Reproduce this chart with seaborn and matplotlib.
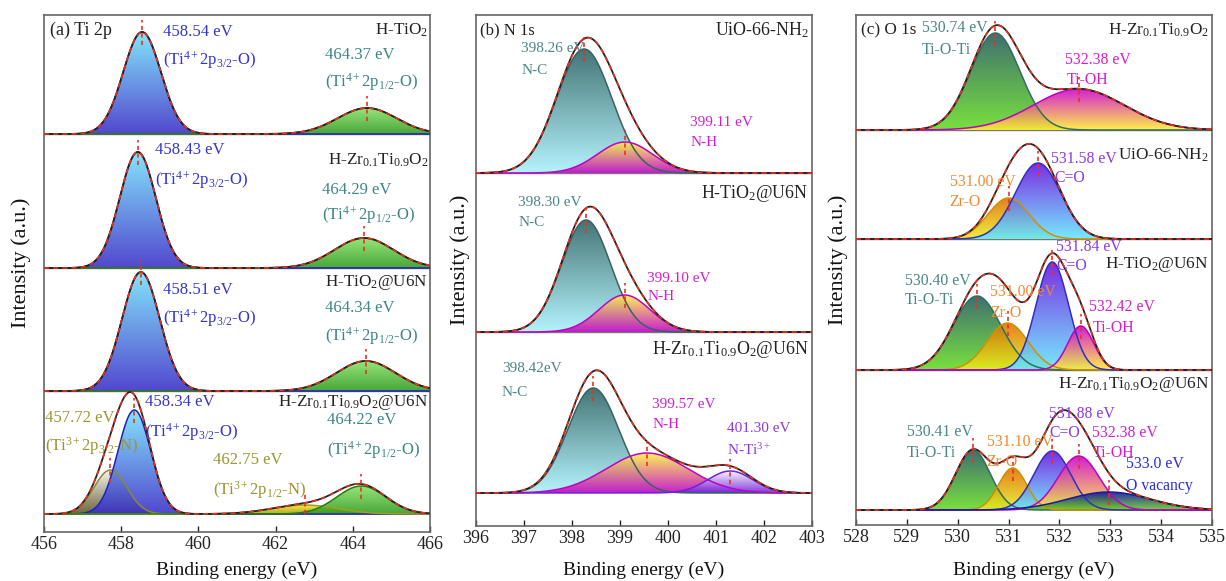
import numpy as np
import matplotlib
matplotlib.use("Agg")
import matplotlib.pyplot as plt
import seaborn as sns
from matplotlib.colors import LinearSegmentedColormap
from matplotlib.patches import PathPatch

# ---------------- DATA ----------------
# Panel (a) Ti 2p
ti_samples = ["H-TiO$_2$", "H-Zr$_{0.1}$Ti$_{0.9}$O$_2$", "H-TiO$_2$@U6N",
              "H-Zr$_{0.1}$Ti$_{0.9}$O$_2$@U6N"]
ti_centers = [[458.54, 464.37], [458.43, 464.29], [458.51, 464.34],
              [457.72, 458.34, 462.75, 464.22]]
ti_heights = [[102, 26], [116, 30], [119, 30], [44, 104, 9, 28]]
ti_fwhm = [[1.15, 1.8], [1.1, 1.8], [1.15, 1.8], [1.0, 1.0, 2.0, 1.5]]
ti_kinds = [["t4_32", "t4_12"], ["t4_32", "t4_12"], ["t4_32", "t4_12"],
            ["t3_32", "t4_32", "t3_12", "t4_12"]]
ti_texts = [
    [("458.54 eV", "t4_32"), ("(Ti$^{4+}$2p$_{3/2}$-O)", "t4_32"),
     ("464.37 eV", "t4_12"), ("(Ti$^{4+}$2p$_{1/2}$-O)", "t4_12")],
    [("458.43 eV", "t4_32"), ("(Ti$^{4+}$2p$_{3/2}$-O)", "t4_32"),
     ("464.29 eV", "t4_12"), ("(Ti$^{4+}$2p$_{1/2}$-O)", "t4_12")],
    [("458.51 eV", "t4_32"), ("(Ti$^{4+}$2p$_{3/2}$-O)", "t4_32"),
     ("464.34 eV", "t4_12"), ("(Ti$^{4+}$2p$_{1/2}$-O)", "t4_12")],
    [("458.34 eV", "t4_32"), ("(Ti$^{4+}$2p$_{3/2}$-O)", "t4_32"),
     ("457.72 eV", "t3_32"), ("(Ti$^{3+}$2p$_{3/2}$-N)", "t3_32"),
     ("462.75 eV", "t3_12"), ("(Ti$^{3+}$2p$_{1/2}$-N)", "t3_12"),
     ("464.22 eV", "t4_12"), ("(Ti$^{4+}$2p$_{1/2}$-O)", "t4_12")],
]

# Panel (b) N 1s
n_samples = ["UiO-66-NH$_2$", "H-TiO$_2$@U6N", "H-Zr$_{0.1}$Ti$_{0.9}$O$_2$@U6N"]
n_centers = [[398.26, 399.11], [398.30, 399.10], [398.45, 399.57, 401.30]]
n_heights = [[124, 31], [112, 37], [105, 40, 22]]
n_fwhm = [[1.35, 1.35], [1.2, 1.25], [1.25, 2.0, 1.1]]
n_kinds = [["NC", "NH"], ["NC", "NH"], ["NC", "NH", "NTi"]]
n_texts = [
    [("398.26 eV", "NC"), ("N-C", "NC"), ("399.11 eV", "NH"), ("N-H", "NH")],
    [("398.30 eV", "NC"), ("N-C", "NC"), ("399.10 eV", "NH"), ("N-H", "NH")],
    [("398.42eV", "NC"), ("N-C", "NC"), ("399.57 eV", "NH"), ("N-H", "NH"),
     ("401.30 eV", "NTi"), ("N-Ti$^{3+}$", "NTi")],
]

# Panel (c) O 1s
o_samples = ["H-Zr$_{0.1}$Ti$_{0.9}$O$_2$", "UiO-66-NH$_2$", "H-TiO$_2$@U6N",
             "H-Zr$_{0.1}$Ti$_{0.9}$O$_2$@U6N"]
o_centers = [[530.74, 532.38], [531.00, 531.58],
             [530.38, 530.98, 531.86, 532.42],
             [530.30, 531.08, 531.86, 532.38, 532.97]]
o_heights = [[97, 41], [41, 76], [74, 47, 108, 44], [60, 42, 59, 54, 18]]
o_fwhm = [[1.14, 2.1], [0.95, 1.05], [1.1, 0.95, 0.75, 0.6],
          [0.8, 0.65, 0.85, 0.95, 1.9]]
o_kinds = [["TiOTi", "TiOH"], ["ZrO", "CO"], ["TiOTi", "ZrO", "CO", "TiOH"],
           ["TiOTi", "ZrO", "CO", "TiOH", "Ovac"]]
o_texts = [
    [("530.74 eV", "TiOTi"), ("Ti-O-Ti", "TiOTi"), ("532.38 eV", "TiOH"), ("Ti-OH", "TiOH")],
    [("531.58 eV", "CO"), ("C=O", "CO"), ("531.00 eV", "ZrO"), ("Zr-O", "ZrO")],
    [("531.84 eV", "CO"), ("C=O", "CO"), ("530.40 eV", "TiOTi"), ("Ti-O-Ti", "TiOTi"),
     ("531.00 eV", "ZrO"), ("Zr-O", "ZrO"), ("532.42 eV", "TiOH"), ("Ti-OH", "TiOH")],
    [("531.88 eV", "CO"), ("C=O", "CO"), ("532.38 eV", "TiOH"), ("Ti-OH", "TiOH"),
     ("530.41 eV", "TiOTi"), ("Ti-O-Ti", "TiOTi"), ("531.10 eV", "ZrO"), ("Zr-O", "ZrO"),
     ("533.0 eV", "Ovac"), ("O vacancy", "Ovac")],
]

# ---------------- STYLES ----------------
# kind: (top colour, bottom colour, edge colour, label colour)
STY = {
    "t4_32": ("#72e2fb", "#3a2ec8", "#2020c0", "#3434d0"),
    "t4_12": ("#86e266", "#2f9a1c", "#2a7a10", "#3d8585"),
    "t3_32": ("#f6f6f2", "#5a5020", "#8a8a30", "#9a9632"),
    "t3_12": ("#f2e420", "#a0a012", "#a0a020", "#9a9632"),
    "NC":    ("#2a6262", "#aaf2fd", "#3a6262", "#4a8686"),
    "NH":    ("#fff040", "#c000c8", "#c000c8", "#d21ed2"),
    "NTi":   ("#f8f2ff", "#7020d8", "#7020d8", "#8a3ae0"),
    "TiOTi": ("#245c5c", "#66dd22", "#2f6f5f", "#4a8686"),
    "TiOH":  ("#d000d0", "#ffee30", "#c000c0", "#d21ed2"),
    "ZrO":   ("#e07000", "#e8f020", "#d09000", "#f08a30"),
    "CO":    ("#6a10e0", "#62e8ff", "#3030c0", "#8a3ae0"),
    "Ovac":  ("#1010a0", "#62cc20", "#1a1aa0", "#2a2ae0"),
}

W, H = 1226, 581
sns.set_theme(style="ticks")
plt.rcParams["font.family"] = ["Liberation Serif", "DejaVu Serif"]
plt.rcParams["mathtext.fontset"] = "custom"
plt.rcParams["mathtext.rm"] = "Liberation Serif"
plt.rcParams["mathtext.it"] = "Liberation Serif:italic"
plt.rcParams["mathtext.bf"] = "Liberation Serif:bold"

fig = plt.figure(figsize=(W / 100, H / 100), dpi=100)


def gauss(x, c, h, f):
    return h * np.exp(-4 * np.log(2) * (x - c) ** 2 / f ** 2)


def grad_fill(ax, x, base, y, kind, z):
    top, bot, edge, _ = STY[kind]
    m = y > y.max() * 0.002
    xs, ys = x[m], y[m]
    poly = ax.fill_between(xs, base, base + ys, color="none", lw=0)
    path = poly.get_paths()[0]
    patch = PathPatch(path, transform=ax.transData, facecolor="none",
                      edgecolor="none")
    ax.add_patch(patch)
    cmap = LinearSegmentedColormap.from_list("g" + kind, [bot, top])
    grad = np.linspace(0, 1, 256).reshape(-1, 1)
    im = ax.imshow(grad, extent=[xs.min(), xs.max(), base, base + ys.max()],
                   origin="lower", cmap=cmap, aspect="auto", alpha=0.88,
                   zorder=z, interpolation="bilinear")
    im.set_clip_path(patch)


def panel(box, xlim, xticks, centers, heights, fwhms, kinds, texts, text_pos,
          samples, sample_pos, bases, title, title_pos, fs, sfs, ylab_x, xlab_y):
    l, r, t, b = box
    ax = fig.add_axes([l / W, 1 - b / H, (r - l) / W, (b - t) / H])
    x = np.linspace(xlim[0], xlim[1], 900)
    ytop = b - t
    for i, base in enumerate(bases):
        comps = [gauss(x, c, h, f) for c, h, f in
                 zip(centers[i], heights[i], fwhms[i])]
        for j, (yc, k) in enumerate(zip(comps, kinds[i])):
            grad_fill(ax, x, base, yc, k, 2 + j * 0.1)
        for j, (yc, k) in enumerate(zip(comps, kinds[i])):
            sns.lineplot(x=x, y=base + yc, color=STY[k][2], lw=1.1, ax=ax,
                         estimator=None, zorder=4, legend=False)
        env = np.sum(comps, axis=0)
        sns.lineplot(x=x, y=base + env, color="#222222", lw=1.3, ax=ax,
                     estimator=None, zorder=5, legend=False)
        ax.plot(x, base + env, color="#e8321e", lw=1.2, ls=(0, (3, 2.5)),
                zorder=6)
        for c, h in zip(centers[i], heights[i]):
            ax.plot([c, c], [max(base, base + h - 13), base + h + 12],
                    color="#e8321e", lw=1.2, ls=(0, (2.5, 2)), zorder=7)
        for (txt, k), (tx, ty) in zip(texts[i], text_pos[i]):
            ax.text(tx, ty, txt, color=STY[k][3], fontsize=fs, ha="left",
                    va="center", zorder=8)
        sx, sy = sample_pos[i]
        ax.text(sx, sy, samples[i], color="#222222", fontsize=sfs, ha="right",
                va="center", zorder=8)
    for base in bases[:-1]:
        ax.axhline(base, color="#777777", lw=1.0, zorder=1)
    ax.text(title_pos[0], title_pos[1], title, color="#222222",
            fontsize=fs + 1, ha="left", va="center", zorder=8)
    ax.set_xlim(*xlim)
    ax.set_ylim(0, ytop)
    ax.set_xticks(xticks)
    ax.set_xticklabels([str(v) for v in xticks])
    ax.set_yticks([])
    ax.tick_params(axis="x", direction="in", length=4, width=1, pad=3,
                   labelsize=13, colors="#222222")
    for s in ax.spines.values():
        s.set_color("#666666")
        s.set_linewidth(1.2)
    ax.set_xlabel("Binding energy (eV)", fontsize=14, color="#111111",
                  va="center")
    ax.xaxis.set_label_coords(0.5, xlab_y)
    ax.set_ylabel("Intensity (a.u.)", fontsize=16, color="#111111",
                  va="center", ha="center")
    ax.yaxis.set_label_coords(ylab_x, 0.52)
    return ax


# ---------------- LAYOUT ----------------
# panel (a)
ti_pos = [
    [(459.08, 500), (459.08, 472), (463.28, 477), (463.28, 450)],
    [(458.88, 382), (458.88, 352), (463.20, 342), (463.20, 317)],
    [(459.08, 242), (459.08, 214), (463.28, 224), (463.28, 196)],
    [(458.62, 130), (458.62, 100), (456.03, 114), (456.03, 86),
     (460.38, 72), (460.38, 42), (463.33, 112), (463.33, 82)],
]
ti_spos = [(465.95, 502), (465.95, 372), (465.95, 249), (465.95, 129)]
panel((44, 430, 15, 532), (456, 466), [456, 458, 460, 462, 464, 466],
      ti_centers, ti_heights, ti_fwhm, ti_kinds, ti_texts, ti_pos,
      ti_samples, ti_spos, [398, 264, 141, 18], "(a) Ti 2p", (456.16, 502),
      12, 12.3, -0.06, -0.074)

# panel (b)
n_pos = [
    [(396.95, 478), (396.95, 456), (400.47, 403), (400.47, 383)],
    [(396.89, 323), (396.89, 304), (399.57, 248), (399.57, 230)],
    [(396.55, 158), (396.55, 134), (399.68, 122), (399.68, 101),
     (401.24, 98), (401.24, 76)],
]
n_spos = [(402.93, 496), (402.93, 332), (402.93, 176)]
panel((475.5, 812, 15, 526), (396, 403), [396, 397, 398, 399, 400, 401, 402, 403],
      n_centers, n_heights, n_fwhm, n_kinds, n_texts, n_pos,
      n_samples, n_spos, [353, 194, 33], "(b) N 1s", (396.09, 496),
      11, 12.9, -0.045, -0.086)

# panel (c)
o_pos = [
    [(529.29, 497), (529.29, 475), (532.10, 465), (532.14, 445)],
    [(531.84, 366), (531.90, 347), (529.84, 343), (529.84, 323)],
    [(531.94, 278), (531.94, 259), (528.96, 244), (528.96, 225),
     (530.63, 233), (530.63, 212), (532.59, 218), (532.65, 197)],
    [(531.80, 111), (531.80, 92), (532.65, 92), (532.65, 72),
     (529.00, 93), (529.00, 72), (530.57, 83), (530.57, 63),
     (533.31, 61), (533.31, 39)],
]
o_spos = [(534.94, 495), (534.94, 370), (534.94, 260), (534.94, 140)]
panel((856, 1212, 15, 525), (528, 535), [528, 529, 530, 531, 532, 533, 534, 535],
      o_centers, o_heights, o_fwhm, o_kinds, o_texts, o_pos,
      o_samples, o_spos, [395, 286, 155, 15], "(c) O 1s", (528.1, 495),
      11.3, 12.4, -0.05, -0.088)

fig.savefig("out.png", dpi=100)
